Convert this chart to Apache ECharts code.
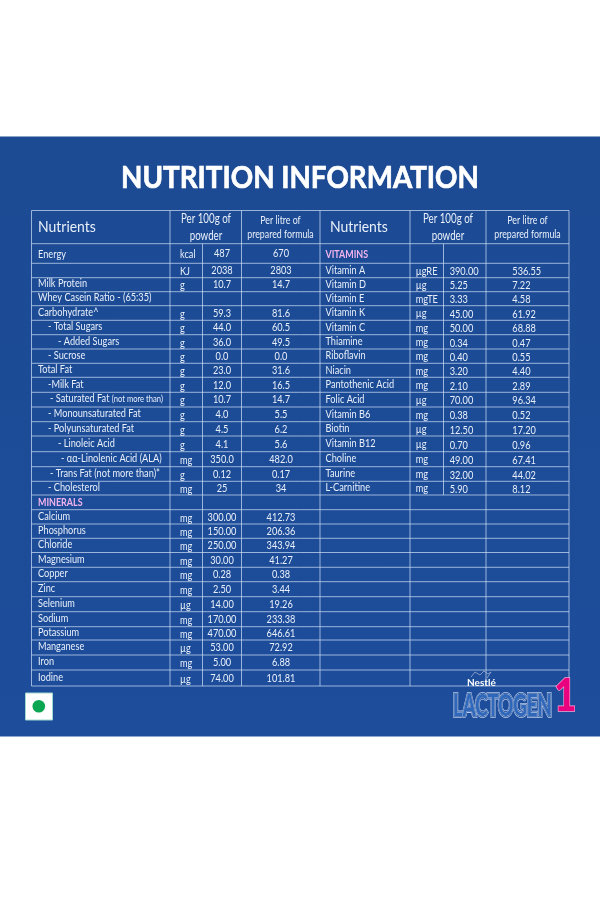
<!DOCTYPE html>
<html>
<head>
<meta charset="utf-8">
<style>
html, body { margin: 0; padding: 0; background: #fff; }
#chart-container { width: 600px; height: 905px; }
</style>
<script src="https://cdn.jsdelivr.net/npm/echarts@6/dist/echarts.min.js"></script>
</head>
<body>
<div id="chart-container"></div>
<script>
// table content
const titleText = 'NUTRITION INFORMATION';
const headNutrients = 'Nutrients';
const headPowder = 'Per 100g of\npowder';
const headLitre = 'Per litre of\nprepared formula';

const leftNames = ['Energy', '', 'Milk Protein', 'Whey Casein Ratio - (65:35)', 'Carbohydrate^', '- Total Sugars', '- Added Sugars', '- Sucrose', 'Total Fat', '-Milk Fat', '- Saturated Fat {small|(not more than)}', '- Monounsaturated Fat', '- Polyunsaturated Fat', '- Linoleic Acid', '- αα-Linolenic Acid (ALA)', '- Trans Fat (not more than)*', '- Cholesterol', 'MINERALS', 'Calcium', 'Phosphorus', 'Chloride', 'Magnesium', 'Copper', 'Zinc', 'Selenium', 'Sodium', 'Potassium', 'Manganese', 'Iron', 'Iodine'];
const leftUnits = ['kcal', 'KJ', 'g', '', 'g', 'g', 'g', 'g', 'g', 'g', 'g', 'g', 'g', 'g', 'mg', 'g', 'mg', '', 'mg', 'mg', 'mg', 'mg', 'mg', 'mg', 'µg', 'mg', 'mg', 'µg', 'mg', 'µg'];
const leftPowder = ['487', '2038', '10.7', '', '59.3', '44.0', '36.0', '0.0', '23.0', '12.0', '10.7', '4.0', '4.5', '4.1', '350.0', '0.12', '25', '', '300.00', '150.00', '250.00', '30.00', '0.28', '2.50', '14.00', '170.00', '470.00', '53.00', '5.00', '74.00'];
const leftLitre = ['670', '2803', '14.7', '', '81.6', '60.5', '49.5', '0.0', '31.6', '16.5', '14.7', '5.5', '6.2', '5.6', '482.0', '0.17', '34', '', '412.73', '206.36', '343.94', '41.27', '0.38', '3.44', '19.26', '233.38', '646.61', '72.92', '6.88', '101.81'];

const rightNames = ['VITAMINS', 'Vitamin A', 'Vitamin D', 'Vitamin E', 'Vitamin K', 'Vitamin C', 'Thiamine', 'Riboflavin', 'Niacin', 'Pantothenic Acid', 'Folic Acid', 'Vitamin B6', 'Biotin', 'Vitamin B12', 'Choline', 'Taurine', 'L-Carnitine'];
const rightUnits = ['', 'µgRE', 'µg', 'mgTE', 'µg', 'mg', 'mg', 'mg', 'mg', 'mg', 'µg', 'mg', 'µg', 'µg', 'mg', 'mg', 'mg'];
const rightPowder = ['', '390.00', '5.25', '3.33', '45.00', '50.00', '0.34', '0.40', '3.20', '2.10', '70.00', '0.38', '12.50', '0.70', '49.00', '32.00', '5.90'];
const rightLitre = ['', '536.55', '7.22', '4.58', '61.92', '68.88', '0.47', '0.55', '4.40', '2.89', '96.34', '0.52', '17.20', '0.96', '67.41', '44.02', '8.12'];

// table layout, in page pixels
const columnLines = [31.5, 170, 241.5, 320, 410, 486, 569];
const rowLines = [210.5, 243.7, 263.3, 277.7, 291.7, 305.7, 320.3, 334.7, 349, 363.3, 377.3, 392.3, 407, 421.7, 436, 451.7, 466.7, 481.3, 495, 509.7, 524, 538.3, 552.5, 567.3, 581.7, 596.7, 611.7, 626.7, 640, 655, 670, 686];
const leftIndent = [0, 0, 0, 0, 0, 10, 20, 10, 0, 10, 12, 10, 10, 20, 23, 12, 10, 0, 0, 0, 0, 0, 0, 0, 0, 0, 0, 0, 0, 0];

const bandTop = '#1c4a93';
const bandBottom = '#1d4d9b';
const lineColor = 'rgba(205,222,245,0.72)';
const textColor = '#e9f0fa';
const headingColor = '#f3b4ee';
const font = 'Lato';

// one mid-point per data row, header is rowLines[0]..rowLines[1]
function rowMid(i) {
    return (rowLines[i + 1] + rowLines[i + 2]) / 2;
}

const cells = [];
function addCell(x, y, text, align, size, scale, leading, color, weight) {
    if (text) {
        cells.push({ x: x, y: y, text: text, align: align, size: size, scale: scale, leading: leading, color: color || textColor, weight: weight || 'normal' });
    }
}

const headMid = (rowLines[0] + rowLines[1]) / 2;
addCell(38, headMid, headNutrients, 'left', 15, 0.93);
addCell(206, headMid + 0.5, headPowder, 'center', 13.5, 0.72, 17);
addCell(280.5, headMid, headLitre, 'center', 11, 0.8, 14);
addCell(330, headMid, headNutrients, 'left', 15, 0.93);
addCell(448, headMid + 0.5, headPowder, 'center', 13.5, 0.72, 17);
addCell(527.5, headMid, headLitre, 'center', 11, 0.8, 14);

const bodySize = 11.5;
const bodyScale = 0.8;

leftNames.forEach(function (name, i) {
    if (name === 'MINERALS') {
        addCell(38, rowMid(i), name, 'left', 10.5, 0.85, null, headingColor, 'bold');
    } else {
        addCell(38 + leftIndent[i], rowMid(i) - 1 + (i === 0 ? 1.5 : 0), name, 'left', bodySize, bodyScale);
    }
    addCell(180, rowMid(i) + 1, leftUnits[i], 'left', bodySize, bodyScale);
    addCell(222, rowMid(i), leftPowder[i], 'center', bodySize, bodyScale);
    addCell(281, rowMid(i), leftLitre[i], 'center', bodySize, bodyScale);
});
rightNames.forEach(function (name, i) {
    if (name === 'VITAMINS') {
        addCell(325.5, rowMid(i) + 1.5, name, 'left', 10.5, 0.85, null, headingColor, 'bold');
    } else {
        addCell(325.5, rowMid(i) - 0.5, name, 'left', bodySize, bodyScale);
    }
    addCell(415.7, rowMid(i) + 0.5, rightUnits[i], 'left', bodySize, bodyScale);
    addCell(449.7, rowMid(i) + 1, rightPowder[i], 'left', bodySize, bodyScale);
    addCell(512.3, rowMid(i) + 1, rightLitre[i], 'left', bodySize, bodyScale);
});

// every table line as [x1, y1, x2, y2]
const tableLines = [];
rowLines.forEach(function (y) {
    tableLines.push([columnLines[0], y, columnLines[6], y]);
});
columnLines.forEach(function (x) {
    tableLines.push([x, rowLines[0], x, rowLines[31]]);
});
tableLines.push([202.5, rowLines[1], 202.5, rowLines[31]]);
tableLines.push([443.5, rowLines[1], 443.5, rowLines[18]]);

var dom = document.getElementById('chart-container');
var myChart = echarts.init(dom, null, { renderer: 'canvas' });

const logoWord = { text: 'LACTOGEN', font: 'bold 31px ' + font, lineJoin: 'round' };

var option = {
    animation: false,
    backgroundColor: '#ffffff',
    grid: { left: 0, right: 0, top: 0, bottom: 0 },
    xAxis: { type: 'value', min: 0, max: 600, show: false },
    yAxis: { type: 'value', min: 0, max: 905, inverse: true, show: false },
    graphic: {
        elements: [
            {
                type: 'rect',
                z: -1,
                shape: { x: 0, y: 136.5, width: 600, height: 600 },
                style: {
                    fill: new echarts.graphic.LinearGradient(0, 0, 0, 1, [
                        { offset: 0, color: bandTop },
                        { offset: 1, color: bandBottom }
                    ])
                }
            },
            {
                type: 'text', z: 6, x: 300, y: 178, scaleX: 0.925,
                style: {
                    text: titleText, font: 'bold 30px ' + font, fill: '#ffffff',
                    stroke: '#ffffff', lineWidth: 0.7, align: 'center', verticalAlign: 'middle'
                }
            },
            // green veg mark
            { type: 'rect', z: 5, shape: { x: 25.5, y: 693, width: 27, height: 27 }, style: { fill: '#ffffff', stroke: '#9fd8cf', lineWidth: 1 } },
            { type: 'circle', z: 6, shape: { cx: 38.8, cy: 706.3, r: 6.3 }, style: { fill: '#0aa652' } },
            // brand logo
            { type: 'polyline', z: 6, shape: { points: [[471, 677], [475, 672], [480, 675], [484, 671], [488, 674], [491, 672], [487, 678]] }, style: { fill: 'none', stroke: 'rgba(180,194,220,0.65)', lineWidth: 1 } },
            { type: 'text', z: 6, x: 467, y: 678, style: { text: 'Nestlé', font: 'bold 10px ' + font, fill: '#ffffff' } },
            {
                type: 'text', z: 6, x: 453, y: 690, scaleX: 0.6,
                style: Object.assign({ fill: '#b9cdee', stroke: '#b9cdee', lineWidth: 4 }, logoWord)
            },
            {
                type: 'text', z: 7, x: 453, y: 690, scaleX: 0.6,
                style: Object.assign({ fill: '#1d4b96', stroke: '#1d4b96', lineWidth: 2.4 }, logoWord)
            },
            {
                type: 'text', z: 8, x: 453, y: 690, scaleX: 0.6,
                style: Object.assign({ fill: '#2f68bb', stroke: '#dfe9f8', lineWidth: 0.7 }, logoWord)
            },
            {
                type: 'text', z: 8, x: 554, y: 673, scaleX: 0.85,
                style: { text: '1', font: '900 46px ' + font, fill: '#e8007f', stroke: '#f7a6d3', lineWidth: 1.5, lineJoin: 'round' }
            }
        ]
    },
    series: [
        {
            type: 'custom',
            coordinateSystem: 'cartesian2d',
            silent: true,
            clip: false,
            data: tableLines,
            encode: { x: [0, 2], y: [1, 3] },
            renderItem: function (params, api) {
                const a = api.coord([api.value(0), api.value(1)]);
                const b = api.coord([api.value(2), api.value(3)]);
                return {
                    type: 'line',
                    shape: { x1: a[0], y1: a[1], x2: b[0], y2: b[1] },
                    style: { stroke: lineColor, lineWidth: 1 }
                };
            }
        },
        {
            type: 'custom',
            coordinateSystem: 'cartesian2d',
            silent: true,
            clip: false,
            z: 3,
            data: cells.map(function (c) { return [c.x, c.y]; }),
            renderItem: function (params, api) {
                const c = cells[params.dataIndex];
                const p = api.coord([api.value(0), api.value(1)]);
                return {
                    type: 'text',
                    x: p[0],
                    y: p[1],
                    scaleX: c.scale,
                    style: {
                        text: c.text,
                        fill: c.color,
                        fontFamily: font,
                        fontSize: c.size,
                        fontWeight: c.weight,
                        align: c.align,
                        verticalAlign: 'middle',
                        lineHeight: c.leading || c.size + 4,
                        rich: { small: { fontFamily: font, fontSize: 9.5, color: textColor, fill: textColor } }
                    }
                };
            }
        }
    ]
};

myChart.setOption(option);
window.addEventListener('resize', myChart.resize);
</script>
</body>
</html>
